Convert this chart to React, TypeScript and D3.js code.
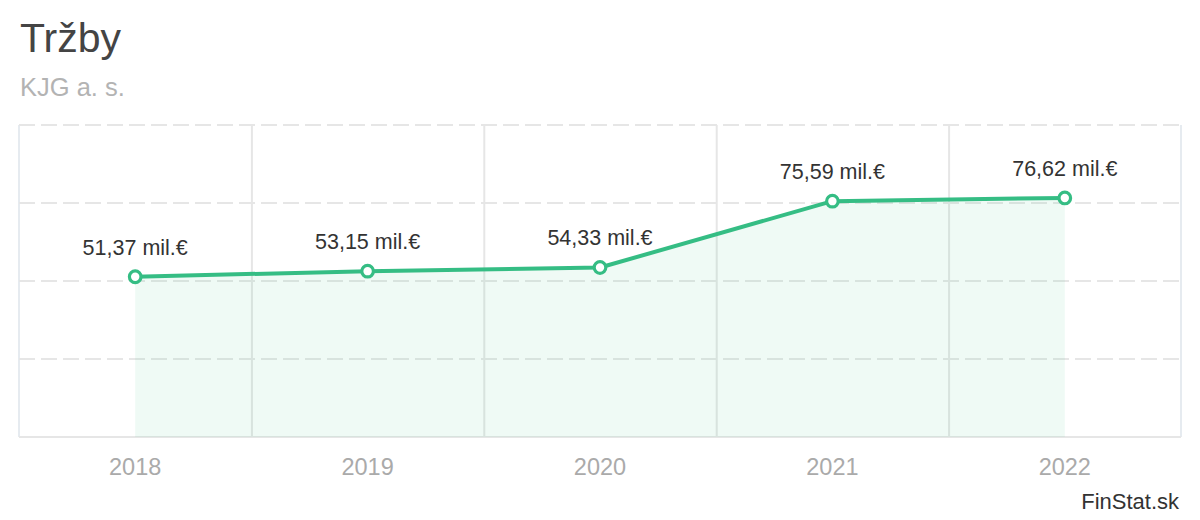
import React from "react";
import * as d3 from "d3";

const years = ["2018", "2019", "2020", "2021", "2022"];
const revenue = [51.37, 53.15, 54.33, 75.59, 76.62];
const yTicks = [0, 25, 50, 75, 100];
const title = "Tržby";
const subtitle = "KJG a. s.";
const credit = "FinStat.sk";

const W = 1200;
const H = 520;
const FONT = "'Liberation Sans', Arial, Helvetica, sans-serif";
const GREEN = "#35bd84";

export default function App() {
  const left = 19;
  const right = 1181;
  const top = 125;
  const bottom = 437;
  const x = d3.scaleBand<string>().domain(years).range([left, right]).padding(0);
  const y = d3.scaleLinear().domain([0, 100]).range([bottom, top]);
  const cx = (d: string) => (x(d) as number) + x.bandwidth() / 2;
  const pts: [number, number][] = years.map((yr, i) => [cx(yr), y(revenue[i])]);
  const line = d3.line<[number, number]>().x((d) => d[0]).y((d) => d[1]);
  const area = d3
    .area<[number, number]>()
    .x((d) => d[0])
    .y0(y(0))
    .y1((d) => d[1]);
  const fmt = (v: number) => v.toFixed(2).replace(".", ",") + " mil.€";

  return (
    <svg
      width={W}
      height={H}
      style={{ position: "absolute", left: 0, top: 0, display: "block", background: "#fff" }}
      fontFamily={FONT}
    >
      <text x={20} y={52} fontSize={41} fill="#444">
        {title}
      </text>
      <text x={20} y={96} fontSize={25.5} fill="#b3b3b3">
        {subtitle}
      </text>

      {/* vertical grid lines at band boundaries */}
      {years.slice(1).map((yr) => (
        <line
          key={"v" + yr}
          x1={(x(yr) as number) + 0.5}
          x2={(x(yr) as number) + 0.5}
          y1={top}
          y2={bottom}
          stroke="#e6e6e6"
          strokeWidth={2}
        />
      ))}
      <line x1={left} x2={left} y1={top} y2={bottom} stroke="#e6ebf0" strokeWidth={2} />
      <line x1={right} x2={right} y1={top} y2={bottom} stroke="#e6ebf0" strokeWidth={2} />

      {/* horizontal grid */}
      {yTicks.filter((t) => t > 0).map((t) => (
        <line
          key={"h" + t}
          x1={left}
          x2={right}
          y1={y(t)}
          y2={y(t)}
          stroke="#e6e6e6"
          strokeWidth={2}
          strokeDasharray="16,6"
        />
      ))}
      <line x1={left} x2={right} y1={y(0)} y2={y(0)} stroke="#e6e6e6" strokeWidth={2} />

      <path d={area(pts) || ""} fill={GREEN} fillOpacity={0.08} />
      <path d={line(pts) || ""} fill="none" stroke={GREEN} strokeWidth={4} strokeLinejoin="round" />
      {pts.map((p, i) => (
        <circle key={"c" + i} cx={p[0]} cy={p[1]} r={5.8} fill="#fff" stroke={GREEN} strokeWidth={3.2} />
      ))}
      {pts.map((p, i) => (
        <text key={"l" + i} x={p[0]} y={p[1] - 22} fontSize={21.5} fill="#333" textAnchor="middle">
          {fmt(revenue[i])}
        </text>
      ))}

      {years.map((yr) => (
        <text key={"x" + yr} x={cx(yr)} y={475} fontSize={23.5} fill="#aaaaaa" textAnchor="middle">
          {yr}
        </text>
      ))}

      <text x={1179} y={509} fontSize={22} fill="#333" textAnchor="end">
        {credit}
      </text>
    </svg>
  );
}
